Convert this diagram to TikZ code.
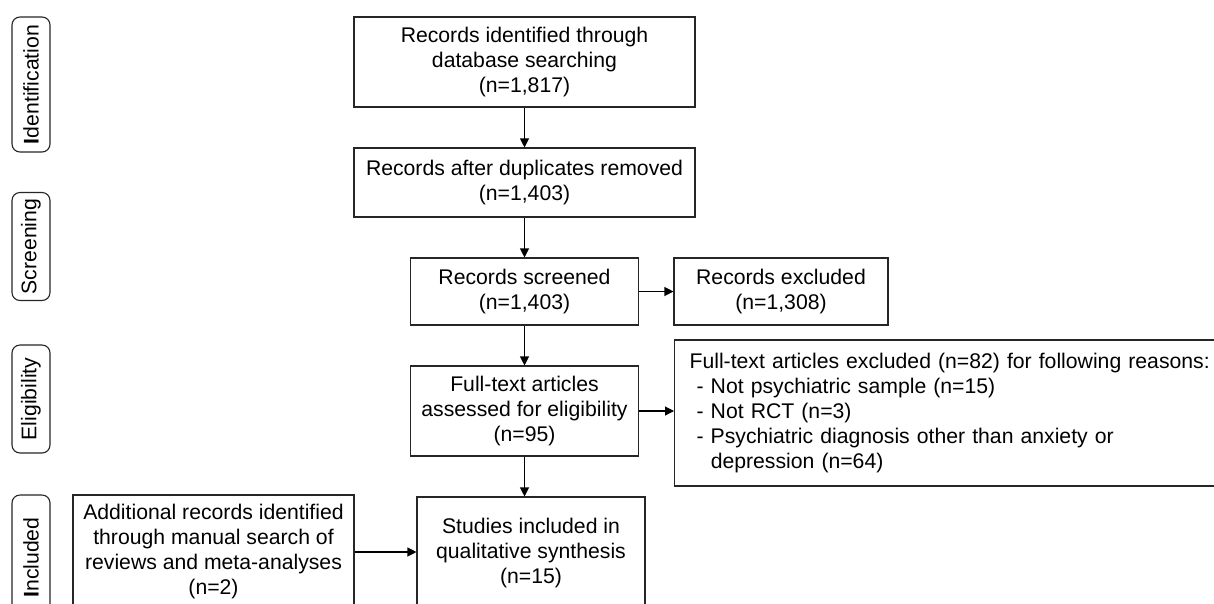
\documentclass[tikz,border=0pt]{standalone}
\usepackage{fontspec}
\setmainfont{Liberation Sans}
\usetikzlibrary{arrows.meta}
\begin{document}
\begin{tikzpicture}[x=1pt,y=-1pt,
  txt/.style={font=\fontsize{21.2}{25}\selectfont},
  box/.style={txt, draw=black!85, line width=1.1pt, align=center, inner sep=0pt},
  stage/.style={txt, draw=black!85, line width=1.1pt, rounded corners=8pt, rotate=90, inner sep=0pt, minimum height=38pt},
  arr/.style={line width=1.1pt, -{Triangle[length=9pt,width=9pt]}}]
\fill[white] (0,0) rectangle (1214,603);
\useasboundingbox (0,0) rectangle (1214,603);
\clip (0,0) rectangle (1214,603);
% stage labels
\node[stage, minimum width=135pt] (sid) at (31,84.5) {\textbf{I}dentification};
\node[stage, minimum width=108pt] (ssc) at (31,246.5) {Screening};
\node[stage, minimum width=108pt] (sel) at (31,399) {Eligibility};
\node[stage, minimum width=125pt] (sin) at (31,557.5) {\textbf{I}ncluded};
% boxes
\node[box, minimum width=341pt, minimum height=90pt] (b1) at (524.5,62) {Records identified through\\database searching\\(n=1,817)};
\node[box, minimum width=341pt, minimum height=69pt] (b2) at (524.5,182.5) {Records after duplicates removed\\(n=1,403)};
\node[box, minimum width=228pt, minimum height=67pt] (b3) at (524.5,291.5) {Records screened\\(n=1,403)};
\node[box, minimum width=214pt, minimum height=67pt] (e1) at (781,291.5) {Records excluded\\(n=1,308)};
\node[box, minimum width=228pt, minimum height=90pt] (b4) at (524.5,411) {Full-text articles\\assessed for eligibility\\(n=95)};
\node[box, anchor=west, align=left, text width=530pt, inner xsep=15pt, minimum height=146pt] (e2) at (674,413)
  {Full-text articles excluded (n=82) for following reasons:\\
   \ - Not psychiatric sample (n=15)\\
   \ - Not RCT (n=3)\\
   \ - Psychiatric diagnosis other than anxiety or\\
   \hphantom{\ - }depression (n=64)};
\node[box, minimum width=228pt, minimum height=112pt] (b5) at (531,553) {Studies included in\\qualitative synthesis\\(n=15)};
\node[box, minimum width=281pt, minimum height=114pt] (ad) at (213.5,552) {Additional records identified\\through manual search of\\reviews and meta-analyses\\(n=2)};
% arrows
\draw[arr] (b1.south) -- (b2.north);
\draw[arr] (b2.south) -- (b3.north);
\draw[arr] (b3.east) -- (e1.west);
\draw[arr] (b3.south) -- (b4.north);
\draw[arr] (b4.east) -- (b4.east -| e2.west);
\draw[arr] (b4.south) -- (b4.south |- b5.north);
\draw[arr] (ad.east) -- (ad.east -| b5.west);
\end{tikzpicture}
\end{document}
